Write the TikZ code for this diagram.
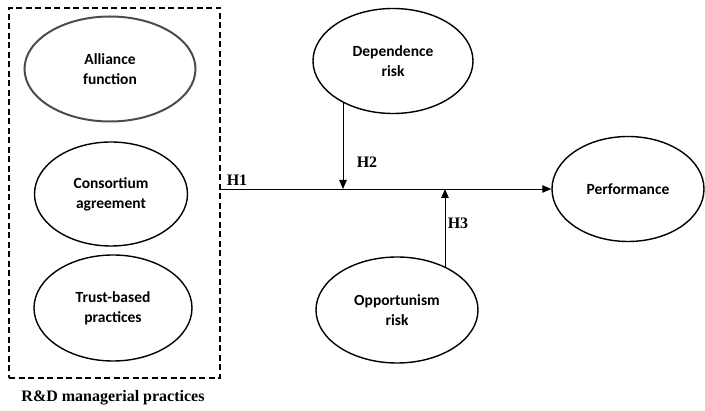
\documentclass[tikz,border=0pt]{standalone}
\usepackage{fontspec}
\setmainfont{Liberation Serif}
\newfontfamily\calfont{Carlito}
\usetikzlibrary{shapes.geometric,arrows.meta}
\begin{document}
\begin{tikzpicture}[x=1pt,y=-1pt,
  construct/.style={ellipse,draw,line width=1.4pt,inner sep=0pt,align=center,
    font=\calfont\bfseries\fontsize{15.5}{20}\selectfont},
  hlabel/.style={font=\bfseries\fontsize{16}{18}\selectfont,inner sep=0pt},
  arr/.style={line width=0.9pt,-{Triangle[length=9pt,width=7.5pt]}}]
\useasboundingbox (0,0) rectangle (705,411);
% dashed box
\node[draw,dash pattern=on 6pt off 3.5pt,line width=1.2pt,minimum width=211pt,minimum height=370pt,inner sep=0pt] (box) at (114.5,193) {};
\node[hlabel] (rdlabel) at (113,398) {R\&D managerial practices};
% left constructs
\node[construct,draw=gray!60!black,line width=2pt,minimum width=171pt,minimum height=105pt] (alliance) at (110,69) {Alliance\\function};
\node[construct,minimum width=153pt,minimum height=104pt] (consort) at (111,194) {Consortium\\agreement};
\node[construct,minimum width=158pt,minimum height=106pt] (trust) at (113,308) {Trust-based\\practices};
% moderators and outcome
\node[construct,minimum width=160pt,minimum height=105pt] (dep) at (393,61) {Dependence\\risk};
\node[construct,minimum width=162pt,minimum height=106pt] (opp) at (397,310) {Opportunism\\risk};
\node[construct,minimum width=152pt,minimum height=105pt] (perf) at (628,189) {Performance};
% connectors
\coordinate (h1start) at (220,189);
\coordinate (j2) at (343,189);
\coordinate (j3) at (445,189);
\coordinate (d0) at (343,102.5);
\coordinate (o0) at (445,267);
\draw[arr] (h1start) -- (perf.west);
\draw[arr] (d0) -- (j2);
\draw[arr] (o0) -- (j3);
% hypothesis labels
\node[hlabel] (h1) at (237,180) {H1};
\node[hlabel] (h2) at (367,162) {H2};
\node[hlabel] (h3) at (458,223) {H3};
\end{tikzpicture}
\end{document}
